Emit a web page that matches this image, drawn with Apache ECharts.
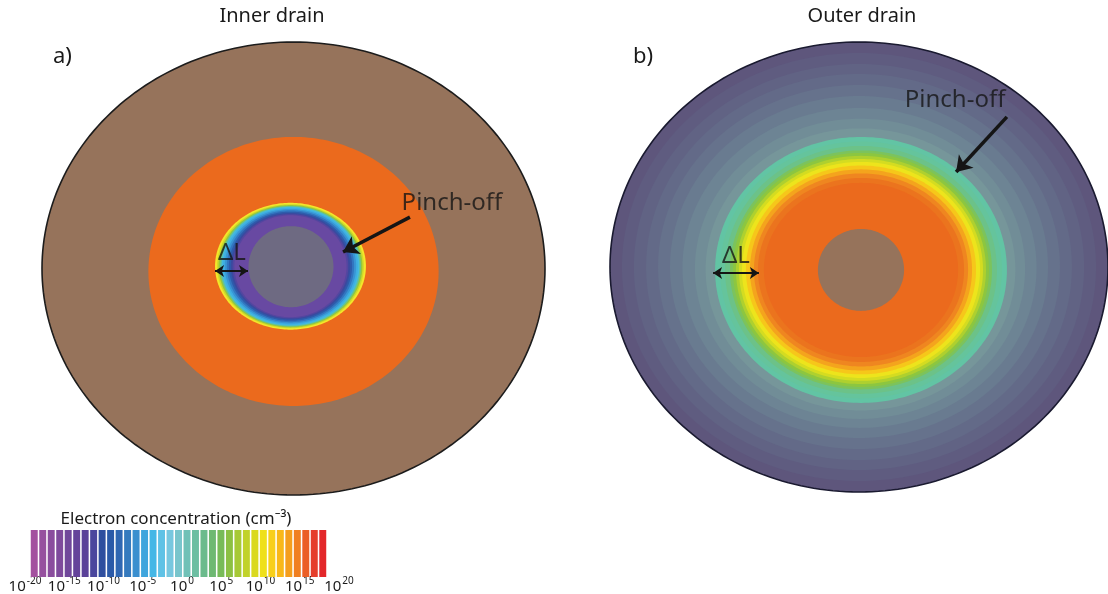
<!DOCTYPE html>
<html><head><meta charset="utf-8">
<script src="https://cdn.jsdelivr.net/npm/echarts@6/dist/echarts.min.js"></script>
<style>html,body{margin:0;padding:0;background:#fff}#c{width:1108px;height:594px}</style>
</head><body><div id="c"></div>
<script>
// ---------- DATA ----------
const panelTitles = ['Inner drain', 'Outer drain'];
const panelTags = ['a)', 'b)'];

// Inner drain: contour rings, semi-axes normalised to outer wafer ellipse (outer -> inner)
const leftRx = [1, 0.577, 0.300, 0.292, 0.286, 0.280, 0.274, 0.268, 0.261, 0.253, 0.245, 0.237, 0.230, 0.223, 0.169];
const leftRy = [1, 0.594, 0.280, 0.274, 0.270, 0.266, 0.262, 0.258, 0.253, 0.247, 0.241, 0.235, 0.230, 0.225, 0.179];
const leftCx = [0, 0, -0.012, -0.012, -0.012, -0.012, -0.012, -0.012, -0.012, -0.012, -0.012, -0.012, -0.012, -0.012, -0.010];
const leftCy = [0, -0.013, 0.010, 0.010, 0.010, 0.010, 0.010, 0.010, 0.010, 0.010, 0.010, 0.010, 0.010, 0.010, 0.008];
const leftColors = ['#96735b', '#eb6a1d', '#f4e62a', '#cfda2a', '#94c83d', '#62c19a', '#45badf', '#3eaee2', '#3895d4', '#3276c0', '#2e5bab', '#3a4a9f', '#5446a0', '#6849a2', '#6e6a82'];

// Outer drain: contour rings (outer -> inner)
const rightRx = [1, 0.952, 0.904, 0.855, 0.807, 0.759, 0.711, 0.663, 0.622, 0.586, 0.566, 0.546, 0.526, 0.514, 0.502, 0.490, 0.478, 0.462, 0.446, 0.430, 0.414, 0.390, 0.173];
const rightRy = [1, 0.951, 0.902, 0.858, 0.809, 0.760, 0.711, 0.667, 0.627, 0.591, 0.571, 0.551, 0.531, 0.520, 0.507, 0.493, 0.480, 0.464, 0.447, 0.429, 0.409, 0.387, 0.182];
const rightCx = [0, 0, 0, 0, 0, 0, 0.002, 0.004, 0.006, 0.008, 0.008, 0.008, 0.008, 0.008, 0.008, 0.008, 0.008, 0.008, 0.008, 0.008, 0.008, 0.008, 0.008];
const rightCy = [0, 0, 0, 0, 0, 0, -0.004, -0.008, -0.011, -0.013, -0.013, -0.013, -0.013, -0.013, -0.013, -0.013, -0.013, -0.013, -0.013, -0.013, -0.013, -0.013, -0.013];
const rightColors = ['#5e567c', '#5f5c80', '#616384', '#636a88', '#66728c', '#697b90', '#6d8494', '#718d97', '#76969a', '#62c4a4', '#65c49c', '#6cc288', '#7cc35c', '#8cc640', '#aed02f', '#d4dc21', '#ede41c', '#f6c71a', '#f4a41d', '#ef8620', '#eb741e', '#eb6a1d', '#96735b'];

// Annotations (data coordinates of each panel)
const notesLeft = [{ name: 'Pinch-off', value: [0.630, 0.289] }, { name: 'ΔL', value: [-0.245, 0.068] }];
const notesRight = [{ name: 'Pinch-off', value: [0.386, 0.742] }, { name: 'ΔL', value: [-0.494, 0.049] }];
const pinchArrowLeft = [[0.463, 0.227], [0.197, 0.073]];
const pinchArrowRight = [[0.594, 0.667], [0.390, 0.422]];
const deltaArrowLeft = [[-0.312, -0.011], [-0.181, -0.011]];
const deltaArrowRight = [[-0.586, -0.027], [-0.402, -0.027]];

// Colour bar
const colorbarTitle = 'Electron concentration (cm⁻³)';
const colorbarColors = ['#a3519f', '#96509f', '#8a4d9e', '#7e4a9c', '#70479b', '#65449a', '#5b4199', '#4a469d', '#2f4f9f', '#2b5aa8', '#3067b2', '#357abe', '#3a8fcf', '#3ea5dd', '#44b7e6', '#5fc2e6', '#77c7df', '#78c5cc', '#70c1b7', '#6cbea2', '#6bbb8c', '#6eb972', '#78bb58', '#8cc043', '#a7c936', '#c1d22a', '#dad91f', '#efe01b', '#f8cf1a', '#f9b818', '#f59e1c', '#f07f20', '#eb5e25', '#e53e2b', '#e3272a'];
const colorbarTicks = [-20, -15, -10, -5, 0, 5, 10, 15, 20];
const colorbarExponents = ['-20', '-15', '-10', '-5', '0', '5', '10', '15', '20'];

// ---------- CHART ----------
const FONT = 'Noto Sans';
function ringData(rx, ry, cx, cy) { return rx.map((v, i) => [v, ry[i], cx[i], cy[i]]); }
function ringRenderer(colors, outline) {
  return function (params, api) {
    const i = params.dataIndex;
    const rx = api.value(0), ry = api.value(1), cx = api.value(2), cy = api.value(3);
    const pts = [];
    for (let k = 0; k < 240; k++) {
      const t = k / 240 * Math.PI * 2;
      pts.push(api.coord([cx + rx * Math.cos(t), cy + ry * Math.sin(t)]));
    }
    return {
      type: 'polygon', shape: { points: pts },
      style: { fill: colors[i], stroke: i === 0 ? outline : null, lineWidth: i === 0 ? 1.6 : 0 }
    };
  };
}
function notes(data, xi) {
  return {
    type: 'scatter', xAxisIndex: xi, yAxisIndex: xi, data: data, symbolSize: 1, silent: true,
    itemStyle: { color: 'rgba(0,0,0,0)' },
    label: { show: true, position: 'inside', formatter: p => p.name, color: '#151515', fontFamily: FONT,
      fontSize: 24 },
    z: 5
  };
}
function arrow(coords, xi, both, width, size) {
  return {
    type: 'lines', coordinateSystem: 'cartesian2d', xAxisIndex: xi, yAxisIndex: xi, silent: true,
    symbol: both ? ['arrow', 'arrow'] : ['none', 'arrow'], symbolSize: size,
    lineStyle: { color: '#151515', width: width, opacity: 1, curveness: 0 },
    data: [{ coords: coords }], z: 6
  };
}
const hiddenAxis = (idx) => ({ type: 'value', gridIndex: idx, min: -1, max: 1, show: false });

const chart = echarts.init(document.getElementById('c'), null, { renderer: 'canvas' });
chart.setOption({
  animation: false,
  backgroundColor: '#ffffff',
  title: [
    { text: panelTitles[0], left: 272, top: 6, textAlign: 'center', padding: 0, textStyle: { fontFamily: FONT, fontSize: 20, fontWeight: 'normal', color: '#1a1a1a' } },
    { text: panelTitles[1], left: 862, top: 6, textAlign: 'center', padding: 0, textStyle: { fontFamily: FONT, fontSize: 20, fontWeight: 'normal', color: '#1a1a1a' } },
    { text: panelTags[0], left: 53, top: 46, padding: 0, textStyle: { fontFamily: FONT, fontSize: 22, fontWeight: 'normal', color: '#1a1a1a' } },
    { text: panelTags[1], left: 633, top: 46, padding: 0, textStyle: { fontFamily: FONT, fontSize: 22, fontWeight: 'normal', color: '#1a1a1a' } },
    { text: colorbarTitle, left: 176, top: 511, textAlign: 'center', padding: 0, textStyle: { fontFamily: FONT, fontSize: 17, fontWeight: 'normal', color: '#1a1a1a' } }
  ],
  grid: [
    { left: 42, top: 42, width: 503, height: 453 },
    { left: 610, top: 42, width: 498, height: 450 },
    { left: 30, top: 530, width: 297, height: 47 },
    { left: 25, top: 572, width: 314, height: 5 }
  ],
  xAxis: [
    hiddenAxis(0), hiddenAxis(1),
    { type: 'category', gridIndex: 2, data: colorbarColors.map((c, i) => i), show: false },
    { type: 'value', gridIndex: 3, min: -20, max: 20, interval: 5,
      axisLine: { show: false }, axisTick: { show: false }, splitLine: { show: false },
      axisLabel: { margin: 3, fontFamily: FONT, color: '#1a1a1a',
        formatter: v => '{b|10}{s|' + colorbarExponents[colorbarTicks.indexOf(v)] + '}',
        rich: {
          b: { fontFamily: FONT, fontSize: 15, color: '#1a1a1a', lineHeight: 18, verticalAlign: 'bottom' },
          s: { fontFamily: FONT, fontSize: 10, color: '#1a1a1a', lineHeight: 18, verticalAlign: 'top', padding: [0, 0, 0, 1] }
        } } }
  ],
  yAxis: [
    hiddenAxis(0), hiddenAxis(1),
    { type: 'value', gridIndex: 2, min: 0, max: 1, show: false },
    { type: 'value', gridIndex: 3, min: 0, max: 1, show: false }
  ],
  series: [
    { type: 'custom', xAxisIndex: 0, yAxisIndex: 0, data: ringData(leftRx, leftRy, leftCx, leftCy), renderItem: ringRenderer(leftColors, '#1c1c1c'), silent: true, z: 2 },
    { type: 'custom', xAxisIndex: 1, yAxisIndex: 1, data: ringData(rightRx, rightRy, rightCx, rightCy), renderItem: ringRenderer(rightColors, '#1a1a30'), silent: true, z: 2 },
    notes(notesLeft, 0), notes(notesRight, 1),
    arrow(pinchArrowLeft, 0, false, 3.5, 15),
    arrow(pinchArrowRight, 1, false, 3.5, 15),
    arrow(deltaArrowLeft, 0, true, 2.2, 9),
    arrow(deltaArrowRight, 1, true, 2.2, 9),
    { type: 'bar', xAxisIndex: 2, yAxisIndex: 2, barCategoryGap: '18%', silent: true,
      data: colorbarColors.map(c => ({ value: 1, itemStyle: { color: c } })) },
    { type: 'scatter', xAxisIndex: 3, yAxisIndex: 3, data: [], silent: true }
  ]
});
</script></body></html>
